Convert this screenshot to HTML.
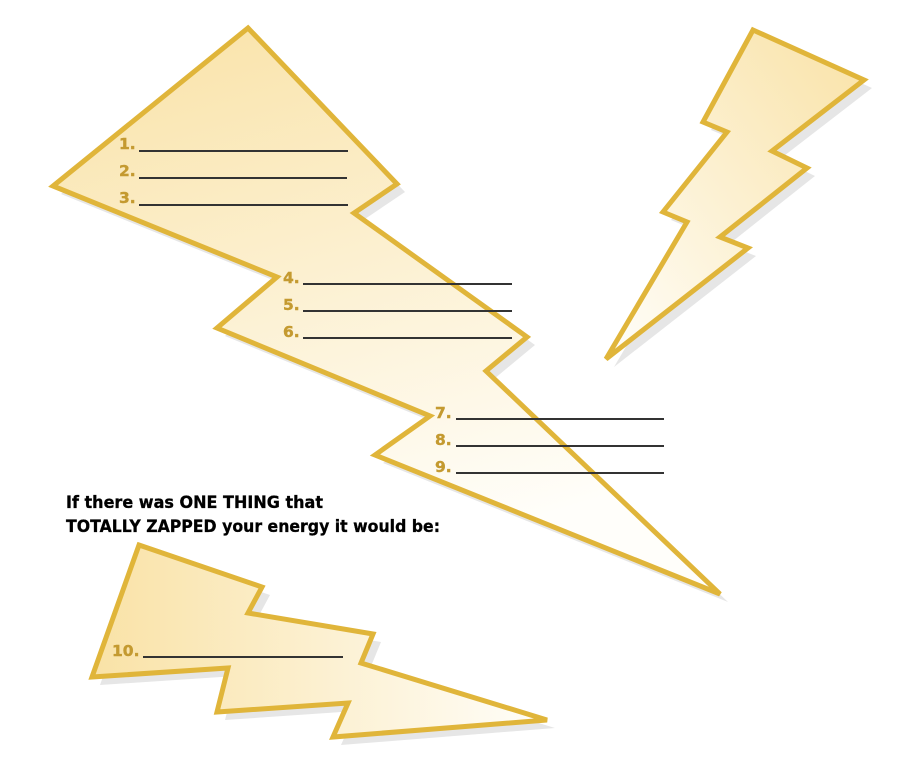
<!DOCTYPE html>
<html><head><meta charset="utf-8"><style>
html,body{margin:0;padding:0;background:#fff;}
svg{display:block;}
.n{font-family:"DejaVu Sans","Liberation Sans",sans-serif;font-weight:bold;font-size:15.5px;fill:#c49a30;stroke:#c49a30;stroke-width:0.4;}
.t{font-family:"DejaVu Sans","Liberation Sans",sans-serif;font-weight:bold;font-size:16.5px;fill:#000;stroke:#000;stroke-width:0.3;}
.l{stroke:#333;stroke-width:2;}
.b{stroke:#e0b53a;stroke-width:5;stroke-linejoin:miter;}
.s{fill:#e6e6e6;}
</style></head><body>
<svg width="900" height="769" viewBox="0 0 900 769">
<defs>
<linearGradient id="g1" x1="0" y1="0" x2="0.35" y2="1">
<stop offset="0" stop-color="#f9e2a6"/><stop offset="1" stop-color="#fffefa"/></linearGradient>
<linearGradient id="g2" x1="1" y1="0" x2="0" y2="1">
<stop offset="0" stop-color="#f9e2a6"/><stop offset="1" stop-color="#fffefa"/></linearGradient>
<linearGradient id="g3" x1="0" y1="0" x2="1" y2="0">
<stop offset="0" stop-color="#f9e2a6"/><stop offset="1" stop-color="#fffefa"/></linearGradient>
</defs>
<g transform="translate(8,8)" class="s">
<polygon points="248,28 397,184 354,213 527,337 486,371 720,594 375,455 430,416 217,328 277,277 53,186"/>
<polygon points="753,30 864,80 772,151 807,168 720,237 748,248 606,359 687,222 663,212 727,132 703,122"/>
<polygon points="139,545 262,587 248,613 373,634 361,663 547,720 333,737 348,703 217,712 228,668 92,677"/>
</g>
<polygon class="b" fill="url(#g1)" points="248,28 397,184 354,213 527,337 486,371 720,594 375,455 430,416 217,328 277,277 53,186"/>
<polygon class="b" fill="url(#g2)" points="753,30 864,80 772,151 807,168 720,237 748,248 606,359 687,222 663,212 727,132 703,122"/>
<polygon class="b" fill="url(#g3)" points="139,545 262,587 248,613 373,634 361,663 547,720 333,737 348,703 217,712 228,668 92,677"/>
<g>
<text class="n" x="119" y="149">1.</text><line class="l" x1="139" y1="151" x2="348" y2="151"/>
<text class="n" x="119" y="176">2.</text><line class="l" x1="139" y1="178" x2="347" y2="178"/>
<text class="n" x="119" y="203">3.</text><line class="l" x1="139" y1="205" x2="348" y2="205"/>
<text class="n" x="283" y="283">4.</text><line class="l" x1="303" y1="284" x2="512" y2="284"/>
<text class="n" x="283" y="310">5.</text><line class="l" x1="303" y1="311" x2="512" y2="311"/>
<text class="n" x="283" y="337">6.</text><line class="l" x1="303" y1="338" x2="512" y2="338"/>
<text class="n" x="435" y="418">7.</text><line class="l" x1="456" y1="419" x2="664" y2="419"/>
<text class="n" x="435" y="445">8.</text><line class="l" x1="456" y1="446" x2="664" y2="446"/>
<text class="n" x="435" y="472">9.</text><line class="l" x1="456" y1="473" x2="664" y2="473"/>
<text class="n" x="112" y="656">10.</text><line class="l" x1="143" y1="657" x2="343" y2="657"/>
</g>
<text class="t" x="66" y="508" textLength="257" lengthAdjust="spacingAndGlyphs">If there was ONE THING that</text>
<text class="t" x="66" y="532" textLength="374" lengthAdjust="spacingAndGlyphs">TOTALLY ZAPPED your energy it would be:</text>
</svg>
</body></html>
